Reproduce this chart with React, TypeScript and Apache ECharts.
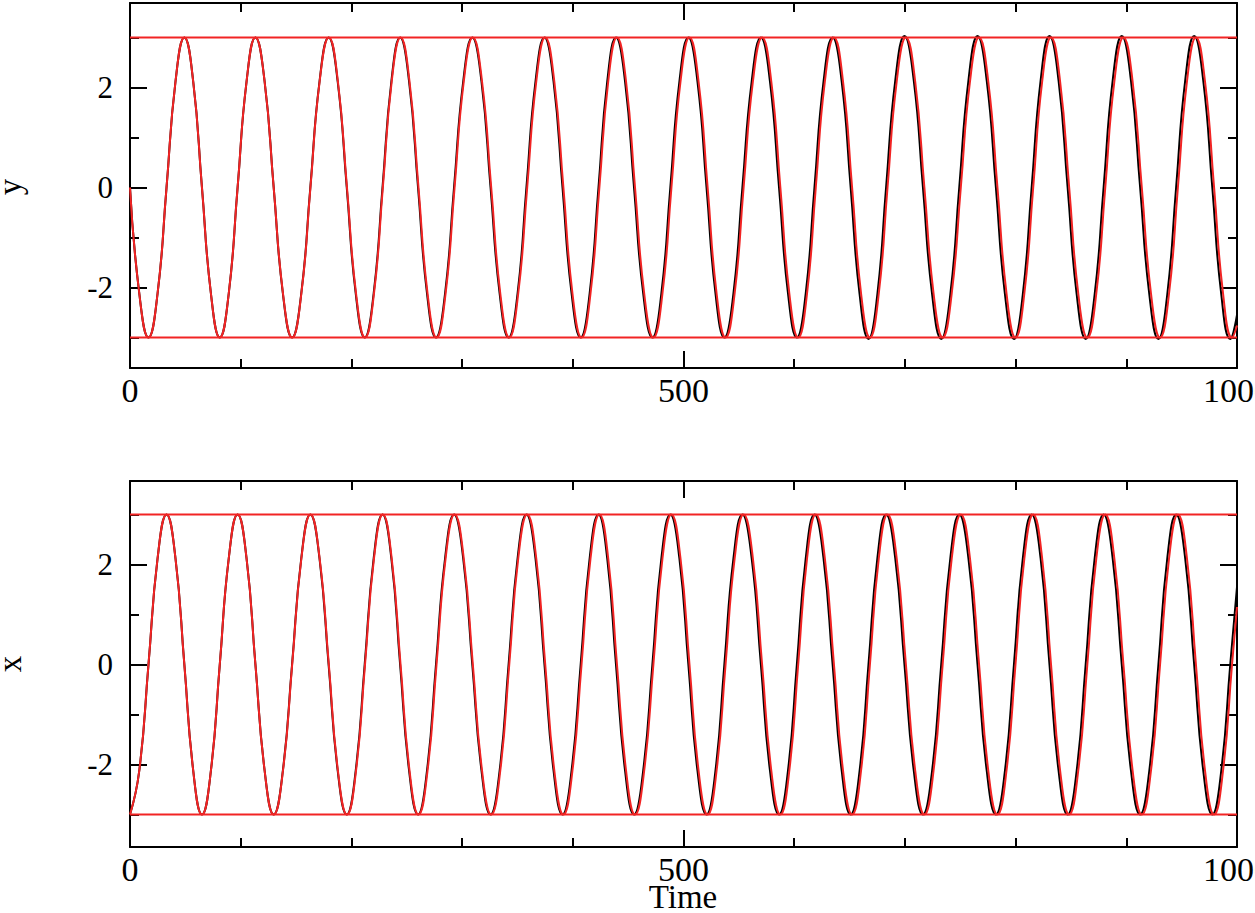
import React, { useEffect, useRef } from "react";
import * as echarts from "echarts";

// Times for the red curves: extrema, zero crossings
// and the 45-degree points between them (8 per period)
const redTimes = [
  0, 8.4, 16.7, 24.9, 33.0, 41.1, 49.1, 57.1,
  65.0, 73.1, 81.1, 89.2, 97.2, 105.3, 113.3, 121.6,
  129.8, 138.2, 146.5, 154.8, 163.0, 171.3, 179.6, 187.8,
  196.0, 204.2, 212.3, 220.4, 228.4, 236.4, 244.4, 252.5,
  260.6, 268.8, 276.9, 285.1, 293.2, 301.5, 309.7, 318.0,
  326.3, 334.5, 342.6, 350.7, 358.8, 367.0, 375.1, 383.3,
  391.5, 399.7, 407.9, 416.0, 424.0, 432.0, 439.9, 448.1,
  456.2, 464.5, 472.8, 481.0, 489.1, 497.3, 505.4, 513.6,
  521.8, 529.9, 538.0, 546.2, 554.3, 562.7, 571.0, 579.3,
  587.5, 595.6, 603.6, 611.6, 619.5, 627.7, 635.9, 644.1,
  652.3, 660.4, 668.4, 676.4, 684.3, 692.6, 700.9, 709.3,
  717.6, 725.9, 734.1, 742.3, 750.5, 758.8, 767.0, 775.3,
  783.6, 791.8, 799.9, 807.9, 815.9, 824.0, 832.0, 840.2,
  848.4, 856.6, 864.8, 872.9, 881.0, 889.2, 897.4, 905.7,
  914.0, 922.3, 930.5, 938.6, 946.6, 954.8, 962.9, 971.1,
  979.3, 987.4, 995.5,
  1000,
];

// Times for the black curves (slightly ahead of the red ones)
const blackTimes = [
  0, 8.4, 16.7, 24.9, 33.0, 41.1, 49.1, 57.1,
  65.0, 73.1, 81.1, 89.2, 97.2, 105.3, 113.3, 121.6,
  129.8, 138.1, 146.4, 154.7, 162.9, 171.2, 179.4, 187.6,
  195.8, 203.9, 212.0, 220.1, 228.1, 236.1, 244.0, 252.1,
  260.2, 268.3, 276.4, 284.6, 292.7, 301.0, 309.2, 317.5,
  325.7, 333.9, 342.0, 350.1, 358.1, 366.3, 374.4, 382.6,
  390.7, 398.9, 407.1, 415.2, 423.2, 431.1, 439.0, 447.2,
  455.3, 463.6, 471.9, 480.0, 488.1, 496.3, 504.4, 512.6,
  520.8, 528.9, 536.9, 545.1, 553.2, 561.6, 569.9, 578.1,
  586.3, 594.4, 602.4, 610.4, 618.3, 626.5, 634.7, 642.9,
  651.0, 659.1, 667.1, 675.1, 683.0, 691.3, 699.6, 708.0,
  716.3, 724.6, 732.8, 741.0, 749.1, 757.4, 765.6, 773.9,
  782.2, 790.4, 798.5, 806.5, 814.5, 822.6, 830.6, 838.8,
  847.0, 855.2, 863.3, 871.4, 879.5, 887.7, 895.9, 904.2,
  912.5, 920.8, 929.0, 937.0, 945.0, 953.2, 961.3, 969.5,
  977.7, 985.8, 993.9,
  1000,
];

// y (top panel) values at those times
const yRedValues = [
  0, -2.12, -3, -2.12, 0, 2.12, 3, 2.12,
  0, -2.12, -3, -2.12, 0, 2.12, 3, 2.12,
  0, -2.12, -3, -2.12, 0, 2.12, 3, 2.12,
  0, -2.12, -3, -2.12, 0, 2.12, 3, 2.12,
  0, -2.12, -3, -2.12, 0, 2.12, 3, 2.12,
  0, -2.12, -3, -2.12, 0, 2.12, 3, 2.12,
  0, -2.12, -3, -2.12, 0, 2.12, 3, 2.12,
  0, -2.12, -3, -2.12, 0, 2.12, 3, 2.12,
  0, -2.12, -3, -2.12, 0, 2.12, 3, 2.12,
  0, -2.12, -3, -2.12, 0, 2.12, 3, 2.12,
  0, -2.12, -3, -2.12, 0, 2.12, 3, 2.12,
  0, -2.12, -3, -2.12, 0, 2.12, 3, 2.12,
  0, -2.12, -3, -2.12, 0, 2.12, 3, 2.12,
  0, -2.12, -3, -2.12, 0, 2.12, 3, 2.12,
  0, -2.12, -3, -2.12, 0, 2.12, 3, 2.12,
  0, -2.12, -3,
  -2.76,
];

const yBlackValues = [
  0, -2.12, -3, -2.12, 0, 2.12, 3, 2.12,
  0, -2.12, -3, -2.12, 0, 2.12, 3, 2.12,
  0, -2.12, -3, -2.12, 0, 2.12, 3, 2.12,
  0, -2.12, -3, -2.12, 0, 2.12, 3, 2.12,
  0, -2.12, -3, -2.12, 0, 2.12, 3, 2.12,
  0, -2.12, -3, -2.12, 0, 2.12, 3, 2.12,
  0, -2.12, -3, -2.12, 0, 2.12, 3, 2.12,
  0, -2.12, -3, -2.12, 0, 2.12, 3, 2.12,
  0, -2.12, -3, -2.12, 0, 2.12, 3, 2.12,
  0, -2.12, -3, -2.12, 0, 2.12, 3, 2.12,
  0, -2.14, -3.03, -2.14, 0, 2.14, 3.03, 2.14,
  0, -2.14, -3.03, -2.14, 0, 2.14, 3.03, 2.14,
  0, -2.14, -3.03, -2.14, 0, 2.14, 3.03, 2.14,
  0, -2.14, -3.03, -2.14, 0, 2.14, 3.03, 2.14,
  0, -2.14, -3.03, -2.14, 0, 2.14, 3.03, 2.14,
  0, -2.14, -3.03,
  -2.55,
];

// x (bottom panel) values at those times
const xRedValues = [
  -3, -2.12, 0, 2.12, 3, 2.12, 0, -2.12,
  -3, -2.12, 0, 2.12, 3, 2.12, 0, -2.12,
  -3, -2.12, 0, 2.12, 3, 2.12, 0, -2.12,
  -3, -2.12, 0, 2.12, 3, 2.12, 0, -2.12,
  -3, -2.12, 0, 2.12, 3, 2.12, 0, -2.12,
  -3, -2.12, 0, 2.12, 3, 2.12, 0, -2.12,
  -3, -2.12, 0, 2.12, 3, 2.12, 0, -2.12,
  -3, -2.12, 0, 2.12, 3, 2.12, 0, -2.12,
  -3, -2.12, 0, 2.12, 3, 2.12, 0, -2.12,
  -3, -2.12, 0, 2.12, 3, 2.12, 0, -2.12,
  -3, -2.12, 0, 2.12, 3, 2.12, 0, -2.12,
  -3, -2.12, 0, 2.12, 3, 2.12, 0, -2.12,
  -3, -2.12, 0, 2.12, 3, 2.12, 0, -2.12,
  -3, -2.12, 0, 2.12, 3, 2.12, 0, -2.12,
  -3, -2.12, 0, 2.12, 3, 2.12, 0, -2.12,
  -3, -2.12, 0,
  1.15,
];

const xBlackValues = [
  -3, -2.12, 0, 2.12, 3, 2.12, 0, -2.12,
  -3, -2.12, 0, 2.12, 3, 2.12, 0, -2.12,
  -3, -2.12, 0, 2.12, 3, 2.12, 0, -2.12,
  -3, -2.12, 0, 2.12, 3, 2.12, 0, -2.12,
  -3, -2.12, 0, 2.12, 3, 2.12, 0, -2.12,
  -3, -2.12, 0, 2.12, 3, 2.12, 0, -2.12,
  -3, -2.12, 0, 2.12, 3, 2.12, 0, -2.12,
  -3, -2.12, 0, 2.12, 3, 2.12, 0, -2.12,
  -3, -2.12, 0, 2.12, 3, 2.12, 0, -2.12,
  -3, -2.12, 0, 2.12, 3, 2.12, 0, -2.12,
  -3, -2.12, 0, 2.12, 3, 2.12, 0, -2.12,
  -3, -2.12, 0, 2.12, 3, 2.12, 0, -2.12,
  -3, -2.12, 0, 2.12, 3, 2.12, 0, -2.12,
  -3, -2.12, 0, 2.12, 3, 2.12, 0, -2.12,
  -3, -2.12, 0, 2.12, 3, 2.12, 0, -2.12,
  -3, -2.12, 0,
  1.55,
];

// Horizontal reference levels
const upperLevel = 3;
const lowerLevel = -3;
const timeRange = [0, 1000];

// Axis ticks
const xMajorTicks = [0, 500, 1000];
const yMajorTicks = [-2, 0, 2];
const yMinorTicks = [-3, -1, 1, 3];

const RED = "#f22424";
const FONT = "Liberation Serif";

function zip(t: number[], v: number[]) {
  return t.map((x, i) => [x, v[i]]);
}

export default function App() {
  const ref = useRef<HTMLDivElement>(null);

  useEffect(() => {
    if (!ref.current) return;
    const chart = echarts.init(ref.current, null, { renderer: "svg" });

    const axisLine = { show: true, onZero: false, lineStyle: { color: "#000", width: 2 } };

    const makeX = (grid: number, position: "top" | "bottom", labels: boolean) => ({
      type: "value",
      gridIndex: grid,
      position,
      min: timeRange[0],
      max: timeRange[1],
      interval: 500,
      axisLine,
      axisTick: { show: true, inside: true, length: 17, lineStyle: { color: "#000", width: 2 } },
      minorTick: { show: true, splitNumber: 5, length: 9, lineStyle: { color: "#000", width: 2 } },
      splitLine: { show: false },
      minorSplitLine: { show: false },
      axisLabel: {
        show: labels,
        margin: 9,
        fontSize: 34,
        lineHeight: 26,
        fontFamily: FONT,
        color: "#000",
        customValues: xMajorTicks,
        formatter: (v: number) => String(v),
      },
    });

    const makeY = (
      grid: number,
      position: "left" | "right",
      minor: boolean,
      labels: boolean,
      min: number,
      max: number
    ) => ({
      type: "value",
      gridIndex: grid,
      position,
      min,
      max,
      axisLine: minor ? { show: false, onZero: false } : axisLine,
      axisTick: {
        show: true,
        inside: true,
        length: minor ? 9 : 17,
        customValues: minor ? yMinorTicks : yMajorTicks,
        lineStyle: { color: "#000", width: 2 },
      },
      splitLine: { show: false },
      axisLabel: {
        show: labels,
        margin: 17,
        fontSize: 31,
        fontFamily: FONT,
        color: "#000",
        customValues: yMajorTicks,
        formatter: (v: number) => String(v),
      },
    });

    const topMin = -3.61, topMax = 3.69;
    const botMin = -3.65, botMax = 3.67;

    const curve = (name: string, data: number[][], color: string, xi: number, yi: number, z: number) => ({
      name,
      type: "line",
      xAxisIndex: xi,
      yAxisIndex: yi,
      data,
      smooth: 0.5,
      showSymbol: false,
      symbol: "none",
      lineStyle: { color, width: 2 },
      z,
    });

    const level = (name: string, v: number, xi: number, yi: number) => ({
      name,
      type: "line",
      xAxisIndex: xi,
      yAxisIndex: yi,
      data: [
        [timeRange[0], v],
        [timeRange[1], v],
      ],
      showSymbol: false,
      symbol: "none",
      lineStyle: { color: RED, width: 2 },
      z: 5,
    });

    chart.setOption({
      animation: false,
      backgroundColor: "#fff",
      grid: [
        { left: 130, top: 3, width: 1107, height: 365, containLabel: false, outerBoundsMode: "none" },
        { left: 130, top: 481, width: 1107, height: 366, containLabel: false, outerBoundsMode: "none" },
      ],
      xAxis: [
        makeX(0, "bottom", true),
        makeX(0, "top", false),
        makeX(1, "bottom", true),
        makeX(1, "top", false),
      ],
      yAxis: [
        makeY(0, "left", false, true, topMin, topMax),
        makeY(0, "left", true, false, topMin, topMax),
        makeY(0, "right", false, false, topMin, topMax),
        makeY(0, "right", true, false, topMin, topMax),
        makeY(1, "left", false, true, botMin, botMax),
        makeY(1, "left", true, false, botMin, botMax),
        makeY(1, "right", false, false, botMin, botMax),
        makeY(1, "right", true, false, botMin, botMax),
      ],
      series: [
        curve("y (black)", zip(blackTimes, yBlackValues), "#000", 0, 0, 3),
        curve("y (red)", zip(redTimes, yRedValues), RED, 0, 0, 4),
        level("y upper", upperLevel, 0, 0),
        level("y lower", lowerLevel, 0, 0),
        curve("x (black)", zip(blackTimes, xBlackValues), "#000", 2, 4, 3),
        curve("x (red)", zip(redTimes, xRedValues), RED, 2, 4, 4),
        level("x upper", upperLevel, 2, 4),
        level("x lower", lowerLevel, 2, 4),
      ],
      graphic: [
        {
          type: "text",
          x: 10,
          y: 187,
          rotation: Math.PI / 2,
          style: { text: "y", font: `33px '${FONT}'`, lineHeight: 18, fill: "#000", align: "center", verticalAlign: "middle" },
        },
        {
          type: "text",
          x: 10,
          y: 664,
          rotation: Math.PI / 2,
          style: { text: "x", font: `33px '${FONT}'`, lineHeight: 18, fill: "#000", align: "center", verticalAlign: "middle" },
        },
        {
          type: "text",
          x: 683,
          y: 897,
          style: { text: "Time", font: `33px '${FONT}'`, lineHeight: 24, fill: "#000", align: "center", verticalAlign: "middle" },
        },
      ],
    });

    return () => chart.dispose();
  }, []);

  return (
    <div
      ref={ref}
      style={{ position: "fixed", left: 0, top: 0, width: 1255, height: 913, background: "#fff" }}
    />
  );
}
